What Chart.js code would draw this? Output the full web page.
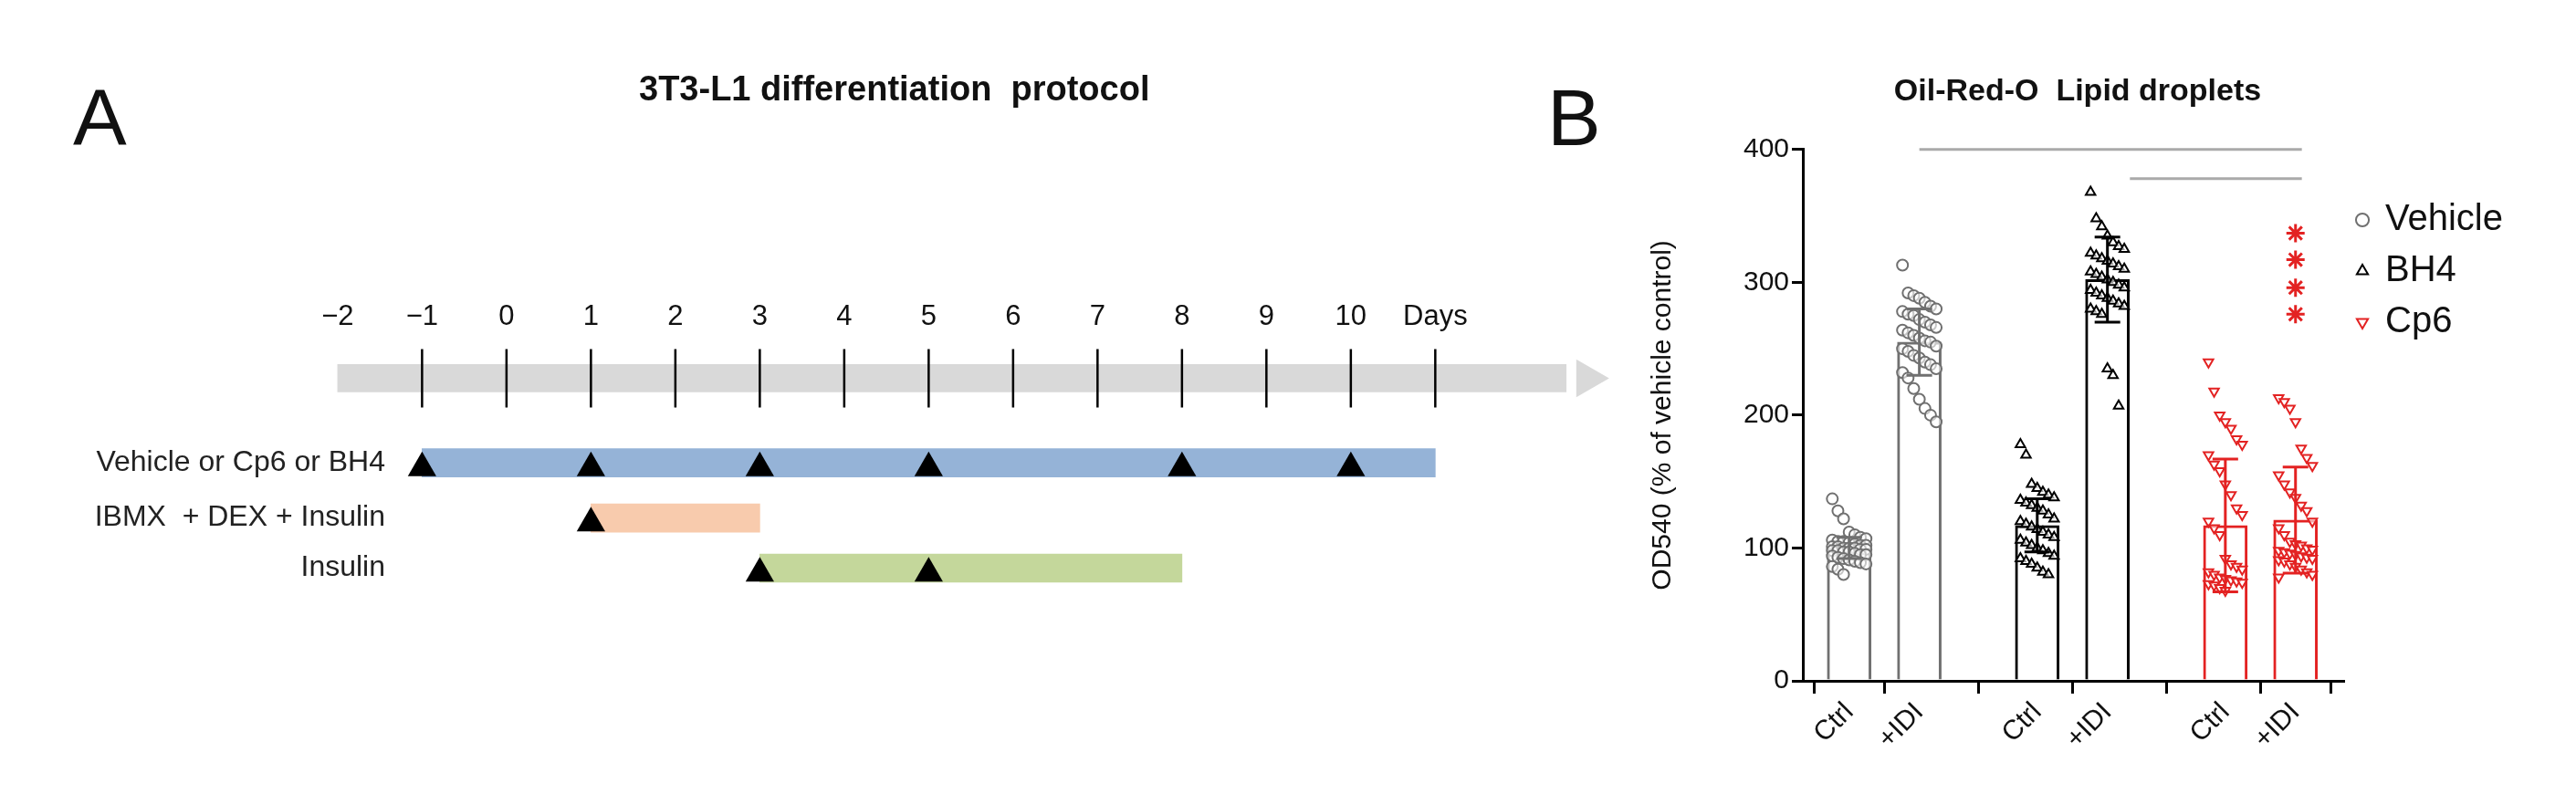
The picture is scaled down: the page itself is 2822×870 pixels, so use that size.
<!DOCTYPE html>
<html>
<head>
<meta charset="utf-8">
<script src="https://cdn.jsdelivr.net/npm/chart.js@4.4.1/dist/chart.umd.min.js"></script>
<style>
  body { margin: 0; background: #fff; width: 2822px; height: 870px; position: relative; overflow: hidden; font-family: 'Liberation Sans', Arial, sans-serif; }
  .lbl { position: absolute; color: #111; }
  #wrapA { position: absolute; left: 0; top: 0; width: 1800px; height: 870px; }
  #wrapB { position: absolute; left: 1800px; top: 0; width: 1022px; height: 870px; }
</style>
</head>
<body>
<div id="wrapA"><canvas id="chartA" width="1800" height="870"></canvas></div>
<div id="wrapB"><canvas id="chartB" width="1022" height="870"></canvas></div>
<div class="lbl" style="left:80px;top:78px;font-size:88px;">A</div>
<div class="lbl" style="left:1695px;top:78px;font-size:88px;">B</div>
<div class="lbl" style="left:700px;top:76px;font-size:38px;font-weight:bold;">3T3-L1 differentiation&nbsp; protocol</div>
<script>
// ---- panel A: timeline ----
var dayLabels = ['\u22122', '\u22121', '0', '1', '2', '3', '4', '5', '6', '7', '8', '9', '10', 'Days'];
var rowLabels = ['Vehicle or Cp6 or BH4', 'IBMX  + DEX + Insulin', 'Insulin'];
var rowStart = [1, 3, 5];
var rowEnd = [13, 5, 10];
var rowTriangles = [[1, 3, 5, 7, 10, 12], [3], [5, 7]];
var rowColors = ['#95b3d7', '#f8cbad', '#c4d79b'];
var rowY = [515, 579, 637];   // row positions on the vertical scale
var axisY = 417;

// ---- panel B: Oil-Red-O ----
var groupNames = ['Vehicle', 'BH4', 'Cp6'];
var xLabels = ['Ctrl', '+IDI', 'Ctrl', '+IDI', 'Ctrl', '+IDI'];
var xPos = [0, 1, 2.68, 3.68, 5.36, 6.36];
var barMeans = [100, 255, 117, 302, 117, 121];
var barSD = [8, 25, 20, 32, 50, 40];
var vehCtrl = [137, 128, 122, 112, 110, 108, 107, 106, 105, 105, 104, 103, 102, 102, 101, 101, 100, 100, 100, 99, 99, 98, 98, 97, 97, 96, 95, 95, 94, 93, 92, 91, 90, 89, 88, 86, 84, 80];
var vehIdi = [313, 292, 290, 288, 285, 282, 280, 278, 276, 275, 272, 270, 268, 266, 264, 262, 260, 258, 256, 255, 252, 250, 248, 245, 243, 240, 238, 235, 232, 228, 220, 212, 205, 200, 195];
var bh4Ctrl = [178, 170, 148, 145, 142, 140, 138, 136, 134, 132, 130, 128, 125, 122, 120, 118, 116, 114, 112, 110, 108, 106, 104, 102, 100, 98, 96, 94, 92, 90, 88, 85, 82, 80];
var bh4Idi = [368, 348, 342, 335, 330, 327, 325, 322, 320, 318, 316, 314, 312, 310, 308, 306, 304, 302, 300, 298, 296, 294, 292, 290, 288, 286, 284, 282, 280, 278, 276, 235, 230, 207];
var cp6Ctrl = [240, 218, 200, 195, 190, 182, 178, 170, 163, 158, 148, 140, 130, 125, 120, 115, 110, 92, 88, 86, 84, 82, 80, 78, 77, 76, 75, 74, 73, 72, 70, 68];
var cp6Idi = [213, 210, 205, 195, 175, 168, 162, 155, 148, 142, 138, 132, 128, 120, 115, 110, 105, 103, 102, 100, 99, 98, 97, 96, 95, 94, 93, 92, 91, 90, 88, 86, 84, 82, 80, 78];
var starValues = [337, 317, 296, 276];
var sigLines = [[1, 6.45, 400], [4.0, 6.45, 378]];
var groupColors = ['#707070', '#000000', '#e32222'];

var narrow = "'Liberation Sans Narrow', 'Arial Narrow', 'Liberation Sans', sans-serif";

// ----- chart A -----
var dsA = [{
  type: 'bar', indexAxis: 'y', clip: false, order: 2, data: [{ y: axisY, x: [0, 14.55] }],
  backgroundColor: '#d9d9d9', barThickness: 30, grouped: false
}];
rowLabels.forEach(function(l, i) {
  dsA.push({
    type: 'bar', indexAxis: 'y', order: 2, data: [{ y: rowY[i], x: [rowStart[i], rowEnd[i]] }],
    backgroundColor: rowColors[i], barThickness: 31, grouped: false
  });
});
dsA.push({
  type: 'scatter', order: 1, data: [{ x: 14.8, y: axisY }], pointStyle: 'triangle', rotation: 90,
  radius: 24, backgroundColor: '#d9d9d9', borderWidth: 0, clip: false
});
dsA.push({
  type: 'scatter', order: 0, data: dayLabels.slice(1).map(function(l, i) { return { x: i + 1, y: axisY }; }),
  pointStyle: 'line', rotation: 90, radius: 32, borderColor: '#000', borderWidth: 2.5
});
rowTriangles.forEach(function(list, i) {
  dsA.push({
    type: 'scatter', order: 0, data: list.map(function(t) { return { x: t, y: rowY[i] + 6 }; }),
    pointStyle: 'triangle', radius: 18, backgroundColor: '#000', borderWidth: 0, clip: false
  });
});

new Chart(document.getElementById('chartA'), {
  type: 'bar',
  data: { datasets: dsA },
  options: {
    responsive: false, devicePixelRatio: 1, animation: false,
    layout: { autoPadding: false, padding: { left: 0, right: 20, top: 0, bottom: 0 } },
    plugins: { legend: { display: false }, tooltip: { enabled: false } },
    scales: {
      x: {
        type: 'linear', position: 'top', min: 0.65, max: 15.245, offset: false,
        grid: { display: false, drawTicks: false, offset: false }, border: { display: false },
        afterFit: function(s) { s.height = 370; },
        afterBuildTicks: function(s) { s.ticks = dayLabels.map(function(l, i) { return { value: i }; }); },
        ticks: { padding: 4, color: '#111', font: { size: 31, family: narrow }, maxRotation: 0, autoSkip: false,
          callback: function(v) { return dayLabels[v]; } }
      },
      y: {
        type: 'linear', reverse: true, min: 370, max: 870, offset: false,
        grid: { display: false, drawTicks: false, offset: false }, border: { display: false },
        afterFit: function(s) { s.width = 430; },
        afterBuildTicks: function(s) { s.ticks = rowY.map(function(v) { return { value: v }; }); },
        ticks: { padding: 8, color: '#222', font: { size: 32, family: narrow }, autoSkip: false,
          callback: function(v) { return rowLabels[rowY.indexOf(v)]; } }
      }
    }
  }
});

// ----- chart B -----
function jitter(center, vals) {
  return vals.map(function(v, i) { return { x: center + ((i % 7) - 3) * 0.08, y: v }; });
}

var errorBars = {
  id: 'errorBars',
  afterDatasetsDraw: function(chart) {
    var ctx = chart.ctx, xs = chart.scales.x, ys = chart.scales.y;
    ctx.save();
    ctx.lineWidth = 3;
    xPos.forEach(function(p, i) {
      var x = xs.getPixelForValue(p);
      var t = ys.getPixelForValue(barMeans[i] + barSD[i]);
      var b = ys.getPixelForValue(barMeans[i] - barSD[i]);
      ctx.strokeStyle = groupColors[Math.floor(i / 2)];
      ctx.beginPath();
      ctx.moveTo(x, t); ctx.lineTo(x, b);
      ctx.moveTo(x - 14, t); ctx.lineTo(x + 14, t);
      ctx.moveTo(x - 14, b); ctx.lineTo(x + 14, b);
      ctx.stroke();
    });
    ctx.restore();
  }
};

var dsB = [
  { type: 'scatter', label: 'Vehicle', data: jitter(xPos[0], vehCtrl).concat(jitter(xPos[1], vehIdi)),
    pointStyle: 'circle', radius: 6, borderColor: '#707070', backgroundColor: 'rgba(255,255,255,0.6)', borderWidth: 2 },
  { type: 'scatter', label: 'BH4', data: jitter(xPos[2], bh4Ctrl).concat(jitter(xPos[3], bh4Idi)),
    pointStyle: 'triangle', radius: 6, borderColor: '#000', backgroundColor: 'rgba(255,255,255,0.6)', borderWidth: 2 },
  { type: 'scatter', label: 'Cp6', data: jitter(xPos[4], cp6Ctrl).concat(jitter(xPos[5], cp6Idi)),
    pointStyle: 'triangle', rotation: 180, radius: 6, borderColor: '#e32222', backgroundColor: 'rgba(255,255,255,0.6)', borderWidth: 2 },
  { type: 'scatter', label: 'stars', data: starValues.map(function(v) { return { x: xPos[5], y: v }; }),
    pointStyle: 'star', radius: 10, borderColor: '#e32222', borderWidth: 3 }
];
groupNames.forEach(function(g, i) {
  dsB.push({
    type: 'bar', label: 'bar' + i, grouped: false, barThickness: 48,
    data: [{ x: xPos[2 * i], y: barMeans[2 * i] }, { x: xPos[2 * i + 1], y: barMeans[2 * i + 1] }],
    backgroundColor: '#fff', borderColor: groupColors[i], borderWidth: 3
  });
});
sigLines.forEach(function(s, i) {
  dsB.push({
    type: 'line', label: 'sig' + i, data: [{ x: s[0], y: s[2] }, { x: s[1], y: s[2] }],
    borderColor: '#aaaaaa', borderWidth: 3, pointRadius: 0, clip: false
  });
});

new Chart(document.getElementById('chartB'), {
  type: 'bar',
  data: { datasets: dsB },
  plugins: [errorBars],
  options: {
    responsive: false, devicePixelRatio: 1, animation: false,
    layout: { padding: { left: 0, right: 70, top: 80, bottom: 0 } },
    plugins: {
      tooltip: { enabled: false },
      title: { display: true, text: 'Oil-Red-O  Lipid droplets', color: '#111',
        font: { size: 34, weight: 'bold', family: "'Liberation Sans', Arial, sans-serif" }, padding: { top: 0, bottom: 43 } },
      legend: {
        position: 'right', align: 'start',
        title: { display: true, text: ' ', font: { size: 40 }, padding: { top: 40, bottom: 37 } },
        labels: {
          usePointStyle: true, boxWidth: 10, boxHeight: 10, padding: 16, color: '#111',
          font: { size: 40, family: "'Liberation Sans', Arial, sans-serif" },
          filter: function(item) { return item.datasetIndex < 3; }
        }
      }
    },
    scales: {
      x: {
        type: 'linear', min: -0.66, max: 7.04, offset: false,
        grid: { drawOnChartArea: false, drawTicks: true, tickLength: 14, color: '#000', lineWidth: 3 },
        border: { color: '#000', width: 3 },
        afterFit: function(s) { s.height = 124; },
        afterBuildTicks: function(s) { s.ticks = xPos.map(function(v) { return { value: v }; }); },
        ticks: { color: '#111', font: { size: 30 }, minRotation: 45, maxRotation: 45, autoSkip: false,
          callback: function(v, i) { return xLabels[i]; } }
      },
      y: {
        min: 0, max: 400,
        afterFit: function(s) { s.width = 175; },
        grid: { drawOnChartArea: false, tickLength: 12, color: '#000', lineWidth: 3 },
        border: { color: '#000', width: 3 },
        ticks: { stepSize: 100, color: '#111', font: { size: 30 } },
        title: { display: true, text: 'OD540 (% of vehicle control)', color: '#111', font: { size: 30 } }
      }
    }
  }
});
</script>
</body>
</html>
